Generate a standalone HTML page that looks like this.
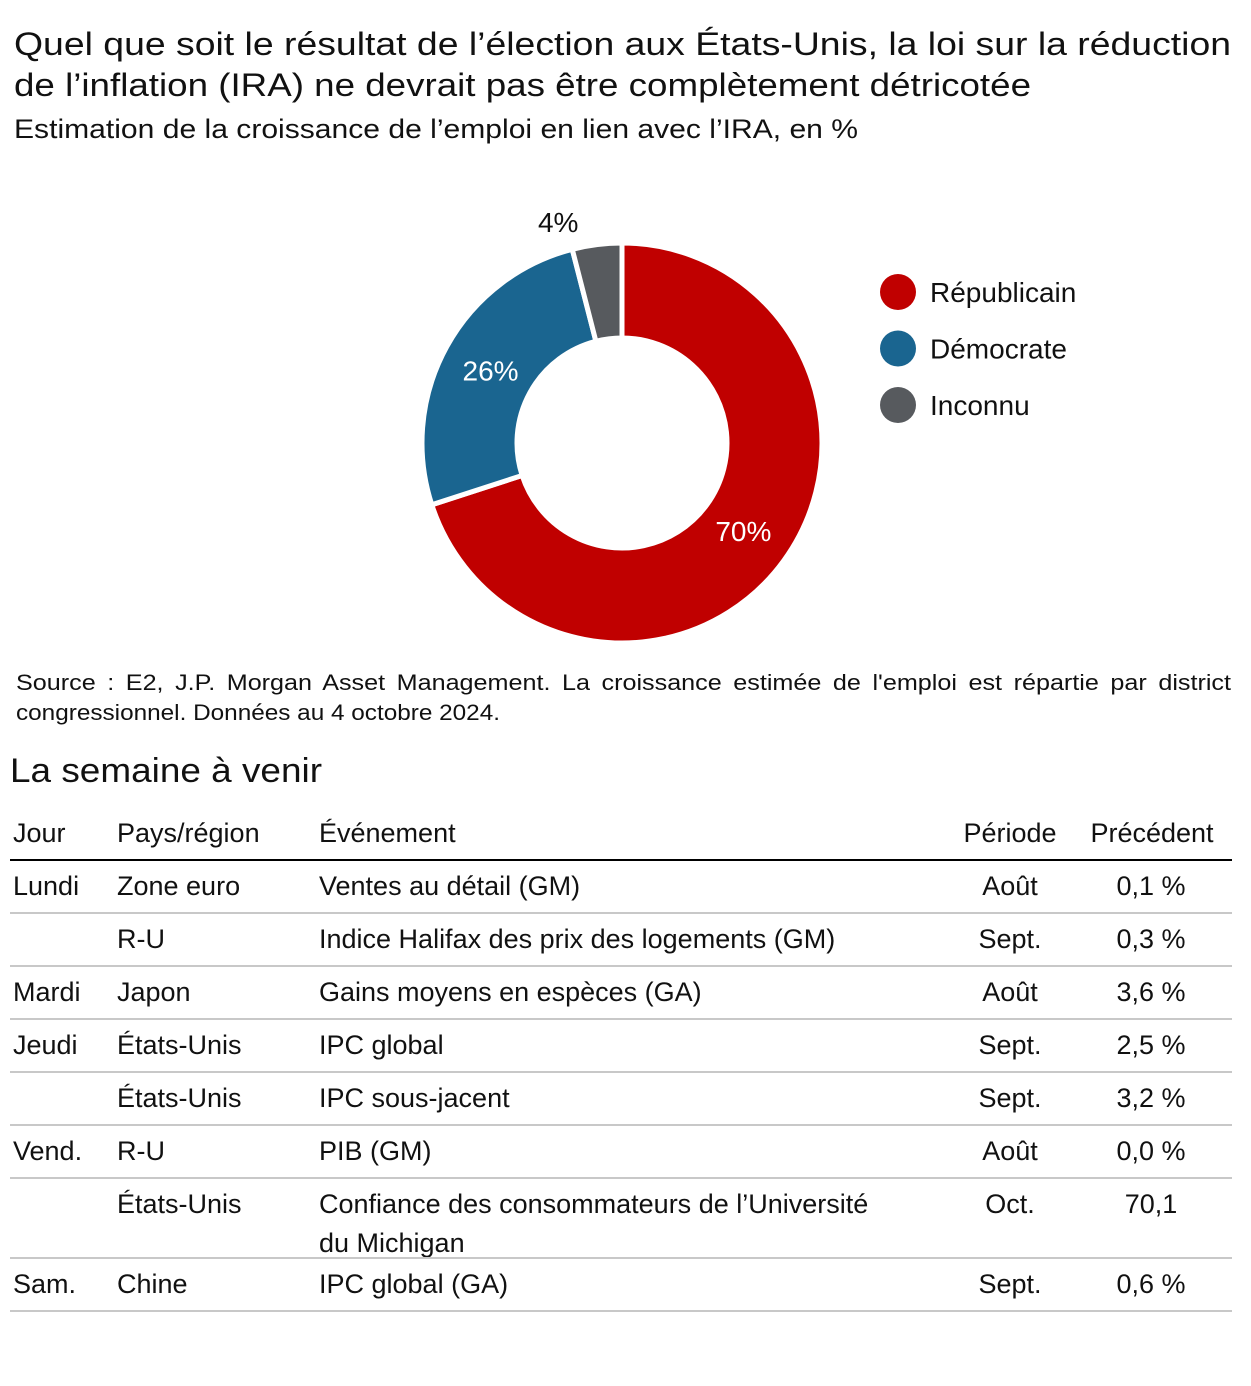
<!DOCTYPE html>
<html><head><meta charset="utf-8"><style>
body{margin:0;background:#fff;}
svg{display:block;font-family:"Liberation Sans",sans-serif;}
</style></head><body>
<svg id="s" width="1251" height="1386" viewBox="0 0 1251 1386">
<text x="14" y="55" font-size="32" textLength="1217" lengthAdjust="spacingAndGlyphs" fill="#111">Quel que soit le résultat de l’élection aux États-Unis, la loi sur la réduction</text>
<text x="14" y="96" font-size="32" textLength="1017" lengthAdjust="spacingAndGlyphs" fill="#111">de l’inflation (IRA) ne devrait pas être complètement détricotée</text>
<text x="14" y="138" font-size="27" textLength="844" lengthAdjust="spacingAndGlyphs" fill="#111">Estimation de la croissance de l’emploi en lien avec l’IRA, en %</text>
<g id="donut"></g>
<g id="legend"></g>
<text x="16" y="690" font-size="22" textLength="1215" lengthAdjust="spacingAndGlyphs" word-spacing="4" fill="#111">Source : E2, J.P. Morgan Asset Management. La croissance estimée de l'emploi est répartie par district</text>
<text x="16" y="720" font-size="22" textLength="484" lengthAdjust="spacingAndGlyphs" fill="#111">congressionnel. Données au 4 octobre 2024.</text>
<text x="10" y="782" font-size="34" textLength="312" lengthAdjust="spacingAndGlyphs" fill="#111">La semaine à venir</text>
<g id="table"></g>
</svg>
<script>
const categories = ["Républicain","Démocrate","Inconnu"];
const values = [70,26,4];
const labels = ["70%","26%","4%"];
const colors = ["#C00000","#1A6590","#575A5E"];
const NS="http://www.w3.org/2000/svg";
const cx=622, cy=443, R=200, r=105;
const total=values.reduce((a,b)=>a+b,0);
function pt(rad,a){return [cx+rad*Math.sin(a), cy-rad*Math.cos(a)];}
const g=document.getElementById('donut');
let start=0;
values.forEach((v,i)=>{
  const a0=start/total*2*Math.PI, a1=(start+v)/total*2*Math.PI; start+=v;
  const large=(a1-a0)>Math.PI?1:0;
  const [x0,y0]=pt(R,a0),[x1,y1]=pt(R,a1),[x2,y2]=pt(r,a1),[x3,y3]=pt(r,a0);
  const p=document.createElementNS(NS,'path');
  p.setAttribute('d',`M${x0},${y0}A${R},${R} 0 ${large} 1 ${x1},${y1}L${x2},${y2}A${r},${r} 0 ${large} 0 ${x3},${y3}Z`);
  p.setAttribute('fill',colors[i]);p.setAttribute('stroke','#fff');p.setAttribute('stroke-width','5');
  
  
  g.appendChild(p);
  const am=(a0+a1)/2;
  const inside=v>=10;
  let lx,ly;
  if(inside){[lx,ly]=pt(150,am);ly+=10;}else{[lx,ly]=pt(R+22,am);lx-=36;ly+=9;}
  const t=document.createElementNS(NS,'text');
  t.setAttribute('x',lx);t.setAttribute('y',ly);
  t.setAttribute('text-anchor','middle');t.setAttribute('font-size','28');
  t.setAttribute('fill',inside?'#fff':'#111');t.textContent=labels[i];
  
  
  g.appendChild(t);
});
const lg=document.getElementById('legend');
categories.forEach((c,i)=>{
  const y=292+i*56.5;
  const ci=document.createElementNS(NS,'circle');
  ci.setAttribute('cx',898);ci.setAttribute('cy',y);ci.setAttribute('r',18);ci.setAttribute('fill',colors[i]);
  
  
  lg.appendChild(ci);
  const t=document.createElementNS(NS,'text');
  t.setAttribute('x',930);t.setAttribute('y',y+10);t.setAttribute('font-size','28');t.setAttribute('fill','#111');t.textContent=c;
  
  
  lg.appendChild(t);
});
const rows=[
 ["Lundi","Zone euro","Ventes au détail (GM)","Août","0,1 %"],
 ["","R-U","Indice Halifax des prix des logements (GM)","Sept.","0,3 %"],
 ["Mardi","Japon","Gains moyens en espèces (GA)","Août","3,6 %"],
 ["Jeudi","États-Unis","IPC global","Sept.","2,5 %"],
 ["","États-Unis","IPC sous-jacent","Sept.","3,2 %"],
 ["Vend.","R-U","PIB (GM)","Août","0,0 %"],
 ["","États-Unis","Confiance des consommateurs de l’Université|du Michigan","Oct.","70,1"],
 ["Sam.","Chine","IPC global (GA)","Sept.","0,6 %"]];
const tb=document.getElementById('table');
function txt(x,y,s,anchor,name){const t=document.createElementNS(NS,'text');t.setAttribute('x',x);t.setAttribute('y',y);t.setAttribute('font-size','27');t.setAttribute('fill','#111');if(anchor)t.setAttribute('text-anchor',anchor);t.textContent=s;
 
 
 tb.appendChild(t);}
function line(y,c,w,name){const l=document.createElementNS(NS,'line');l.setAttribute('x1',10);l.setAttribute('x2',1232);l.setAttribute('y1',y);l.setAttribute('y2',y);l.setAttribute('stroke',c);l.setAttribute('stroke-width',w);
 
 
 tb.appendChild(l);}
txt(13,842,"Jour","", "header-day");txt(117,842,"Pays/région","","header-country");txt(319,842,"Événement","","header-event");
txt(1010,842,"Période","middle","header-period");txt(1152,842,"Précédent","middle","header-previous");
line(860,"#000",2,"header-rule");
let y=895;
rows.forEach((rw,i)=>{
  txt(13,y,rw[0],"","row-day");txt(117,y,rw[1],"","row-country");
  const parts=rw[2].split("|");
  parts.forEach((p,k)=>txt(319,y+k*39,p,"","row-event"));
  txt(1010,y,rw[3],"middle","row-period");txt(1151,y,rw[4],"middle","row-previous");
  const h=parts.length>1?80:53;
  line(y+18+(h-53),"#c8c8c8",2,"row-divider");
  y+=h;
});
</script>
</body></html>
